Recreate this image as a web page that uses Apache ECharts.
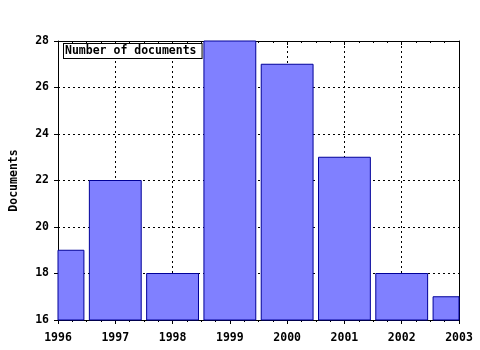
<!DOCTYPE html>
<html>
<head>
<meta charset="utf-8">
<script src="https://cdn.jsdelivr.net/npm/echarts@6/dist/echarts.min.js"></script>
<style>html,body{margin:0;padding:0;background:#fff}#c{width:480px;height:350px}</style>
</head>
<body>
<div id="c"></div>
<script>
var years = [1996, 1997, 1998, 1999, 2000, 2001, 2002, 2003];
var documents = [19, 22, 18, 28, 27, 23, 18, 17];
var seriesName = 'Number of documents';
var yAxisName = 'Documents';

var FONT = '"DejaVu Sans Mono", monospace';
var Y_MIN = 16, Y_MAX = 28;
var chart = echarts.init(document.getElementById('c'), null, {renderer: 'canvas'});
var data = years.map(function (y, i) { return [y, documents[i]]; });

chart.setOption({
  animation: false,
  backgroundColor: '#ffffff',
  grid: {left: 57, right: 21, top: 41, bottom: 30, containLabel: false},
  graphic: [{
    type: 'text', left: 63, top: 43, z: 100,
    style: {
      text: seriesName, fill: '#000',
      font: 'bold 11.5px ' + FONT,
      backgroundColor: '#ffffff', borderColor: '#000', borderWidth: 1,
      padding: [1, 5, 1, 1]
    }
  }],
  xAxis: [{
    type: 'value', min: 1996, max: 2003, interval: 1,
    axisLine: {show: true, onZero: false, lineStyle: {color: '#000', width: 1}},
    axisTick: {show: true, inside: false, length: 4, lineStyle: {color: '#000'}},
    minorTick: {show: true, splitNumber: 4, length: 2, lineStyle: {color: '#000'}},
    axisLabel: {fontFamily: FONT, fontSize: 11.5, fontWeight: 'bold', color: '#000', margin: 12,
      formatter: function (v) { return String(v); }},
    splitLine: {show: true, lineStyle: {color: '#000', type: [2, 3], width: 1}}
  }, {
    type: 'value', position: 'top', min: 1996, max: 2003, interval: 1,
    axisLine: {show: true, onZero: false, lineStyle: {color: '#000'}},
    axisTick: {show: true, inside: true, length: 4, lineStyle: {color: '#000'}},
    minorTick: {show: true, splitNumber: 4, length: 2, lineStyle: {color: '#000'}},
    axisLabel: {show: false}, splitLine: {show: false}
  }],
  yAxis: [{
    type: 'value', min: Y_MIN, max: Y_MAX, interval: 2,
    name: yAxisName, nameLocation: 'middle', nameGap: 38, nameRotate: 90,
    nameTextStyle: {fontFamily: FONT, fontSize: 11.5, fontWeight: 'bold', color: '#000'},
    axisLine: {show: true, onZero: false, lineStyle: {color: '#000'}},
    axisTick: {show: true, inside: false, length: 4, lineStyle: {color: '#000'}},
    axisLabel: {fontFamily: FONT, fontSize: 11.5, fontWeight: 'bold', color: '#000', margin: 9},
    splitLine: {show: true, lineStyle: {color: '#000', type: [2, 3], width: 1}}
  }, {
    type: 'value', position: 'right', min: Y_MIN, max: Y_MAX, interval: 2,
    axisLine: {show: true, onZero: false, lineStyle: {color: '#000'}},
    axisTick: {show: false}, axisLabel: {show: false}, splitLine: {show: false}
  }],
  series: [{
    name: seriesName, type: 'custom', data: data, z: 3,
    encode: {x: 0, y: 1},
    renderItem: function (params, api) {
      var x = api.value(0), y = api.value(1);
      var top = api.coord([x, y]);
      var base = api.coord([x, Y_MIN]);
      var w = api.size([1, 0])[0] * 0.905;
      var cs = params.coordSys;
      var rect = echarts.graphic.clipRectByRect(
        {x: top[0] - w / 2, y: top[1], width: w, height: base[1] - top[1]},
        {x: cs.x, y: cs.y, width: cs.width, height: cs.height}
      );
      if (!rect) return null;
      return {
        type: 'rect', shape: rect,
        style: {fill: '#8080ff', stroke: '#000099', lineWidth: 1}
      };
    }
  }]
});
</script>
</body>
</html>
